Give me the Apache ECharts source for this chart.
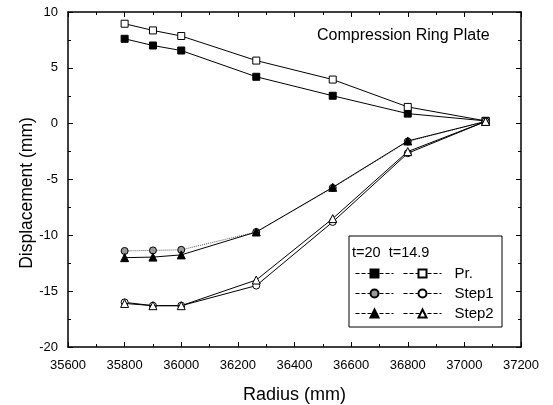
<!DOCTYPE html>
<html><head><meta charset="utf-8">
<script src="https://cdn.jsdelivr.net/npm/echarts@6/dist/echarts.min.js"></script>
<style>html,body{margin:0;padding:0;background:#fff}#c{width:553px;height:405px}</style>
</head><body><div id="c"></div>
<script>
const radius = [35800, 35900, 36000, 36265, 36535, 36800, 37075];
const prT20 = [7.6, 7.0, 6.55, 4.2, 2.5, 0.9, 0.25];
const prT149 = [8.95, 8.35, 7.85, 5.65, 3.95, 1.5, 0.25];
const step1T20 = [-11.4, -11.35, -11.3, -9.7, -5.75, -1.6, 0.2];
const step1T149 = [-16.0, -16.3, -16.3, -14.5, -8.8, -2.65, 0.2];
const step2T20 = [-12.0, -11.95, -11.75, -9.7, -5.7, -1.55, 0.2];
const step2T149 = [-16.1, -16.3, -16.3, -14.0, -8.5, -2.5, 0.2];
const xTicks = [35600, 35800, 36000, 36200, 36400, 36600, 36800, 37000, 37200];
const yTicks = [-20, -15, -10, -5, 0, 5, 10];

const font = 'Liberation Sans, Arial, sans-serif';
function pairs(v){ return radius.map((x,i)=>[x, v[i]]); }
function mk(name, data, symbol, fill, dashed, z){
  return {name, type:'line', data:pairs(data), symbol, symbolSize: symbol==='triangle'?8:7,
    lineStyle:{color: dashed?'#555':'#000', width:1, type: dashed?'dotted':'solid'},
    itemStyle:{color:fill, borderColor:'#000', borderWidth:1},
    emphasis:{disabled:true}, animation:false, z:z||2};
}
const series = [
  mk('Pr. t=20', prT20, 'rect', '#000', false),
  mk('Pr.', prT149, 'rect', '#fff', false),
  mk('Step1 t=20', step1T20, 'circle', '#999', true),
  mk('Step1', step1T149, 'circle', '#fff', false),
  mk('Step2 t=20', step2T20, 'triangle', '#000', false, 3),
  mk('Step2', step2T149, 'triangle', '#fff', false, 3)
];
const axisCommon = {
  axisLine:{onZero:false, lineStyle:{color:'#000', width:1.5}},
  axisTick:{inside:true, length:5, lineStyle:{color:'#000'}},
  minorTick:{show:true, splitNumber:2, length:3, lineStyle:{color:'#000'}},
  splitLine:{show:false}
};
const legendCommon = {orient:'vertical', top:261, itemWidth:38, itemHeight:10, itemGap:5, selectedMode:false,
  lineStyle:{type:'dashed', color:'#000', width:1}};
const chart = echarts.init(document.getElementById('c'), null, {renderer:'canvas'});
chart.setOption({
  animation:false,
  backgroundColor:'#fff',
  title:{text:'Compression Ring Plate', left:312, top:23, textStyle:{fontFamily:font, fontSize:16, fontWeight:'normal', color:'#000'}},
  grid:{left:68, right:32, top:12, bottom:58, containLabel:false, outerBoundsMode:'none'},
  xAxis:[
    Object.assign({type:'value', min:35600, max:37200, interval:200, name:'Radius (mm)', nameLocation:'middle', nameGap:39,
      nameTextStyle:{fontFamily:font, fontSize:18, color:'#000'},
      axisLabel:{fontFamily:font, fontSize:13, color:'#000', margin:12, formatter:v=>String(v)}}, axisCommon),
    Object.assign({type:'value', position:'top', min:35600, max:37200, interval:200, axisLabel:{show:false}}, axisCommon)
  ],
  yAxis:[
    Object.assign({type:'value', min:-20, max:10, interval:5,
      axisLabel:{fontFamily:font, fontSize:13, color:'#000', margin:10}}, axisCommon),
    Object.assign({type:'value', position:'right', min:-20, max:10, interval:5, axisLabel:{show:false}}, axisCommon)
  ],
  legend:[
    Object.assign({data:['Pr. t=20','Step1 t=20','Step2 t=20'], left:350, formatter:()=>'x',
      textStyle:{fontFamily:font, fontSize:15, lineHeight:15, color:'rgba(0,0,0,0)'}}, legendCommon),
    Object.assign({data:['Pr.','Step1','Step2'], left:398,
      textStyle:{fontFamily:font, fontSize:15, lineHeight:15, color:'#000', padding:[0,0,0,8]}}, legendCommon)
  ],
  graphic:[
    {type:'text', x:27, y:193, rotation:Math.PI/2, style:{text:'Displacement (mm)', font:'17.5px '+font, fill:'#000', align:'center', verticalAlign:'middle'}},
    {type:'rect', shape:{x:349, y:236, width:153, height:91}, style:{fill:'none', stroke:'#000', lineWidth:1}, z:10},
    {type:'text', left:352, top:245, style:{text:'t=20  t=14.9', font:'14.5px '+font, fill:'#000'}, z:10}
  ],
  series
});
</script></body></html>
